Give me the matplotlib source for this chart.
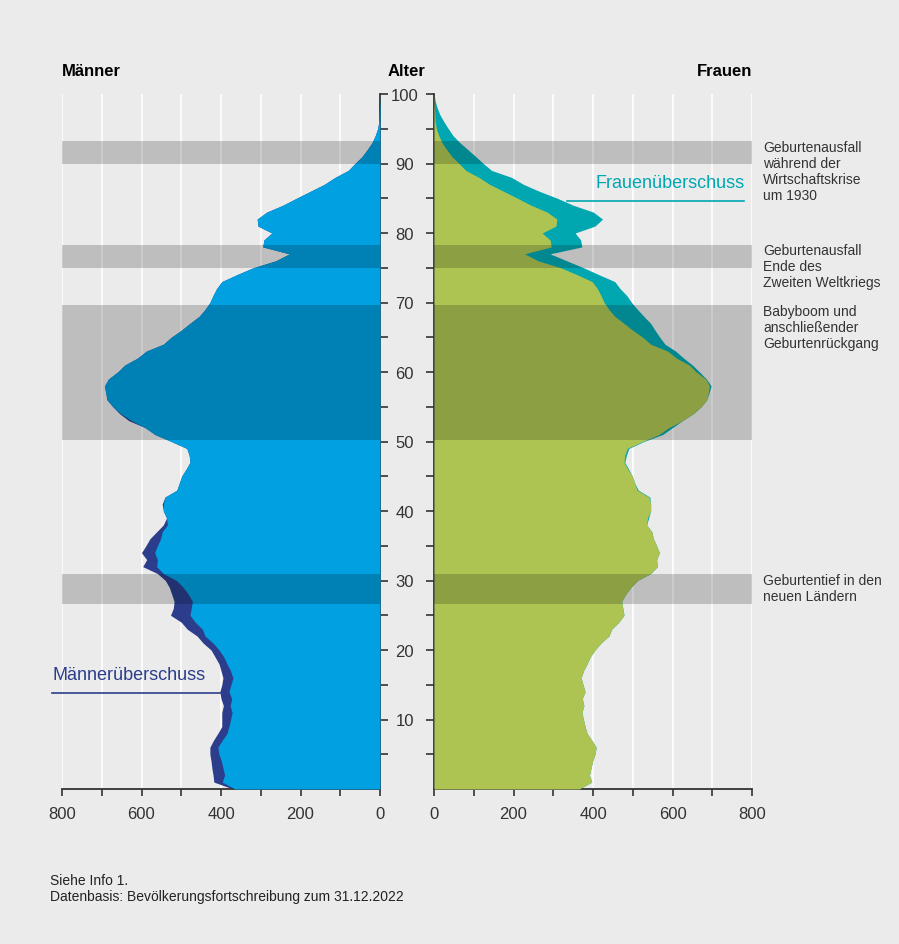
import numpy as np
import matplotlib.pyplot as plt
from matplotlib.lines import Line2D

plt.rcParams['font.family'] = ['Liberation Sans', 'DejaVu Sans']

# Bevoelkerung in Tausend je Altersjahr (0..100)
ages = list(range(101))
maenner = [370, 418, 420, 423, 425, 428, 428, 419, 408, 398,
           398, 398, 394, 400, 403, 398, 395, 400, 405, 415,
           425, 445, 460, 485, 500, 527, 520, 518, 524, 530,
           540, 560, 597, 587, 600, 589, 579, 562, 545, 537,
           545, 548, 541, 511, 505, 499, 488, 478, 480, 486,
           525, 566, 591, 632, 655, 672, 687, 690, 693, 683,
           660, 642, 610, 588, 545, 525, 500, 478, 455, 440,
           428, 420, 411, 398, 360, 319, 262, 228, 295, 292,
           272, 307, 309, 285, 244, 210, 175, 140, 113, 80,
           63, 45, 32, 20, 12, 6, 3, 2, 1, 0.5,
           0]
frauen = [365, 397, 391, 395, 399, 405, 408, 397, 385, 380,
          376, 372, 377, 373, 380, 375, 370, 376, 385, 393,
          405, 420, 440, 447, 465, 478, 475, 472, 482, 495,
          512, 545, 562, 560, 567, 560, 552, 548, 535, 540,
          545, 545, 543, 514, 505, 499, 490, 480, 484, 490,
          528, 575, 600, 625, 652, 672, 686, 692, 697, 685,
          668, 650, 628, 608, 581, 568, 556, 545, 528, 512,
          497, 485, 468, 455, 415, 376, 334, 292, 372, 369,
          355, 405, 424, 401, 350, 310, 265, 225, 195, 145,
          124, 105, 85, 65, 48, 36, 25, 15, 8, 3,
          0]

bands = [(90, 93.2), (75, 78.3), (50.2, 69.6), (26.6, 30.9)]
band_notes = ["Geburtenausfall\nwährend der\nWirtschaftskrise\num 1930",
              "Geburtenausfall\nEnde des\nZweiten Weltkriegs",
              "Babyboom und\nanschließender\nGeburtenrückgang",
              "Geburtentief in den\nneuen Ländern"]

bg = '#ebebeb'
c_blue = '#00a0e1'
c_dblue = '#2b3d8b'
c_green = '#adc453'
c_teal = '#00a7b1'
c_text = '#333333'

m = np.array(maenner, dtype=float)
w = np.array(frauen, dtype=float)
both = np.minimum(m, w)

fig = plt.figure(figsize=(8.99, 9.45), dpi=100)
fig.patch.set_facecolor(bg)

ax_m = fig.add_axes([62 / 899, 155 / 945, 318 / 899, 695 / 945])
ax_f = fig.add_axes([434 / 899, 155 / 945, 318 / 899, 695 / 945])

# Maenner (left)
ax_m.fill_betweenx(ages, 0, m, color=c_dblue, lw=0, zorder=2)
ax_m.fill_betweenx(ages, 0, both, color=c_blue, lw=0, zorder=3)
# Frauen (right)
ax_f.fill_betweenx(ages, 0, w, color=c_teal, lw=0, zorder=2)
ax_f.fill_betweenx(ages, 0, both, color=c_green, lw=0, zorder=3)

for ax in (ax_m, ax_f):
    ax.set_facecolor(bg)
    ax.set_ylim(0, 100)
    for gx in range(100, 801, 100):
        ax.axvline(gx, color='white', lw=1.2, zorder=1)
    for lo, hi in bands:
        ax.axhspan(lo, hi, color='black', alpha=0.19, lw=0, zorder=4)
    ax.spines['top'].set_visible(False)
    ax.spines['bottom'].set_color(c_text)
    ax.spines['bottom'].set_linewidth(1.3)
    ax.set_xticks(range(0, 801, 200))
    ax.set_xticks(range(100, 801, 200), minor=True)
    ax.tick_params(axis='x', which='both', direction='out', length=5,
                   width=1.2, color=c_text, labelsize=12, labelcolor=c_text, pad=7)
    ax.tick_params(axis='x', which='minor', labelbottom=False)

ax_m.set_xlim(800, 0)
ax_f.set_xlim(0, 800)

ax_m.spines['left'].set_visible(False)
ax_m.spines['right'].set_color(c_text)
ax_m.spines['right'].set_linewidth(1.3)
ax_m.yaxis.tick_right()
ax_m.set_yticks(range(10, 101, 10))
ax_m.set_yticks(range(5, 100, 10), minor=True)
ax_m.tick_params(axis='y', which='both', direction='out', length=6, width=1.2,
                 color=c_text, labelright=False)

ax_f.spines['right'].set_visible(False)
ax_f.spines['left'].set_color(c_text)
ax_f.spines['left'].set_linewidth(1.3)
ax_f.set_yticks(range(10, 101, 10))
ax_f.set_yticks(range(5, 100, 10), minor=True)
ax_f.tick_params(axis='y', which='both', direction='out', length=6, width=1.2,
                 color=c_text, labelsize=12, labelcolor=c_text, pad=15)
for lab in ax_f.get_yticklabels():
    lab.set_ha('center')

# notes next to the bands
for (lo, hi), note in zip(bands, band_notes):
    ax_f.text(828, hi + 0.2, note, fontsize=10, color=c_text, va='top', ha='left',
              linespacing=1.18, clip_on=False)

# headers
fig.text(62 / 899, 1 - 71 / 945, "Männer", fontsize=12, fontweight='bold', va='center', ha='left')
fig.text(407 / 899, 1 - 71 / 945, "Alter", fontsize=12, fontweight='bold', va='center', ha='center')
fig.text(752 / 899, 1 - 71 / 945, "Frauen", fontsize=12, fontweight='bold', va='center', ha='right')

# surplus labels
fig.text(745 / 899, 1 - 184 / 945, "Frauenüberschuss", fontsize=13, color=c_teal, va='center', ha='right')
fig.add_artist(Line2D([567 / 899, 744 / 899], [1 - 202 / 945] * 2, color=c_teal, lw=1.2))
fig.text(52 / 899, 1 - 675 / 945, "Männerüberschuss", fontsize=13, color=c_dblue, va='center', ha='left')
fig.add_artist(Line2D([52 / 899, 220 / 899], [1 - 694 / 945] * 2, color=c_dblue, lw=1.2))

# footnote
fig.text(50 / 899, 1 - 874 / 945, "Siehe Info 1.\nDatenbasis: Bevölkerungsfortschreibung zum 31.12.2022",
         fontsize=10, color='#222222', va='top', ha='left', linespacing=1.18)

fig.savefig('out.png', dpi=100, facecolor=bg)
